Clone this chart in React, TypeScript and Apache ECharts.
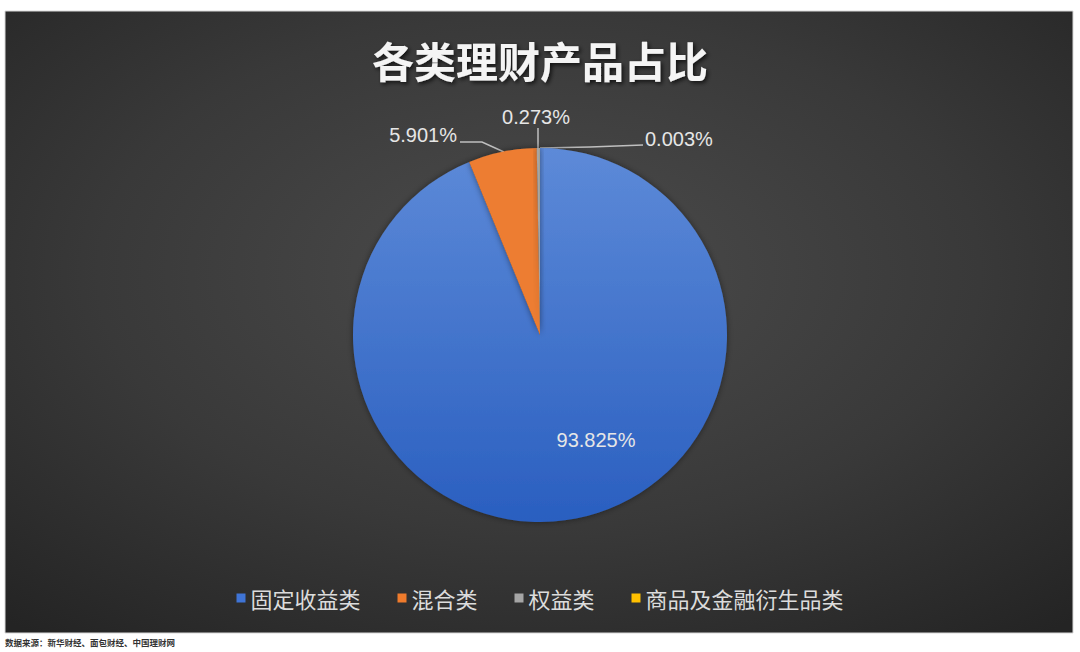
import React, { useEffect, useRef } from "react";
import * as echarts from "echarts";

const categories = ["固定收益类", "混合类", "权益类", "商品及金融衍生品类"];
const values = [93.825, 5.901, 0.273, 0.003];
const colors = ["#4a7bd0", "#ed7d31", "#a5a5a5", "#ffc000"];
const legendColors = ["#3f74d6", "#ef7b2c", "#a5a5a5", "#ffc000"];
const titleText = "各类理财产品占比";
const sourceText = "数据来源：新华财经、面包财经、中国理财网";

const CX = 540;
const CY = 335;
const R = 187;

export default function App() {
  const ref = useRef<HTMLDivElement>(null);
  useEffect(() => {
    const chart = echarts.init(ref.current!, null, { renderer: "svg" });
    const blueGrad = new echarts.graphic.LinearGradient(0, 0, 0, 1, [
      { offset: 0, color: "#5d8ad8" },
      { offset: 1, color: "#2a5fc0" },
    ]);
    const data = categories.map((name, i) => ({
      name,
      value: values[i],
      itemStyle: { color: i === 0 ? blueGrad : colors[i] },
      label:
        i === 0
          ? { position: "inside" as const }
          : { position: "outside" as const },
      labelLine: { show: i !== 0 },
    }));
    chart.setOption({
      animation: false,
      backgroundColor: "#ffffff",
      graphic: [
        {
          type: "rect",
          z: -10,
          shape: { x: 5, y: 11, width: 1068, height: 622 },
          style: {
            fill: new echarts.graphic.RadialGradient(0.5, 0.42, 0.75, [
              { offset: 0, color: "#4c4c4c" },
              { offset: 0.55, color: "#393939" },
              { offset: 1, color: "#242424" },
            ]),
            stroke: "#d8d8d8",
            lineWidth: 1,
          },
        },
        {
          type: "text",
          left: 5,
          top: 638,
          style: {
            text: sourceText,
            fontSize: 8.5,
            fontWeight: "bold",
            fill: "#333333",
            fontFamily: "Noto Sans CJK SC",
          },
        },
      ],
      title: {
        text: titleText,
        left: "center",
        top: 33,
        textStyle: {
          color: "#f4f4f4",
          fontSize: 42,
          fontWeight: "bold",
          fontFamily: "Noto Sans CJK SC",
          textShadowColor: "rgba(0,0,0,0.7)",
          textShadowBlur: 4,
          textShadowOffsetX: 2,
          textShadowOffsetY: 2,
        },
      },
      legend: {
        data: categories.map((name, i) => ({
          name,
          itemStyle: { color: legendColors[i] },
        })),
        left: "center",
        top: 582,
        icon: "rect",
        itemWidth: 9,
        itemHeight: 9,
        itemGap: 37,
        textStyle: {
          color: "#dcdcdc",
          fontSize: 22,
          fontFamily: "Noto Sans CJK SC",
        },
      },
      series: [
        {
          type: "pie",
          center: [CX, CY],
          radius: R,
          startAngle: 90,
          clockwise: true,
          data,
          itemStyle: {
            shadowBlur: 6,
            shadowColor: "rgba(0,0,0,0.45)",
            borderWidth: 0,
          },
          label: {
            show: true,
            color: "#e6e6e6",
            fontSize: 20,
            fontFamily: "Liberation Sans",
            formatter: (p: any) => p.value.toFixed(3) + "%",
          },
          labelLine: {
            show: true,
            lineStyle: { color: "#bfbfbf", width: 1.5 },
          },
          emphasis: { disabled: true },
          labelLayout: (p: any) => {
            const i = p.dataIndex;
            if (i === 0) {
              return { x: CX + 56, y: CY + 105, align: "center", verticalAlign: "middle" };
            }
            if (i === 1) {
              return {
                x: CX - 83,
                y: CY - 200,
                align: "right",
                verticalAlign: "middle",
                labelLinePoints: [
                  [CX - 80, CY - 193],
                  [CX - 58, CY - 193],
                  [CX - 36, CY - 183],
                ],
              };
            }
            if (i === 2) {
              return {
                x: CX - 4,
                y: CY - 218,
                align: "center",
                verticalAlign: "middle",
                labelLinePoints: [
                  [CX - 2, CY - 207],
                  [CX - 2, CY - 197],
                  [CX - 2, CY - 187],
                ],
              };
            }
            return {
              x: CX + 105,
              y: CY - 196,
              align: "left",
              verticalAlign: "middle",
              labelLinePoints: [
                [CX + 103, CY - 190],
                [CX + 50, CY - 188],
                [CX, CY - 187],
              ],
            };
          },
        },
      ],
    });
    return () => chart.dispose();
  }, []);
  return (
    <div
      ref={ref}
      style={{ position: "absolute", left: 0, top: 0, width: 1080, height: 652 }}
    />
  );
}
